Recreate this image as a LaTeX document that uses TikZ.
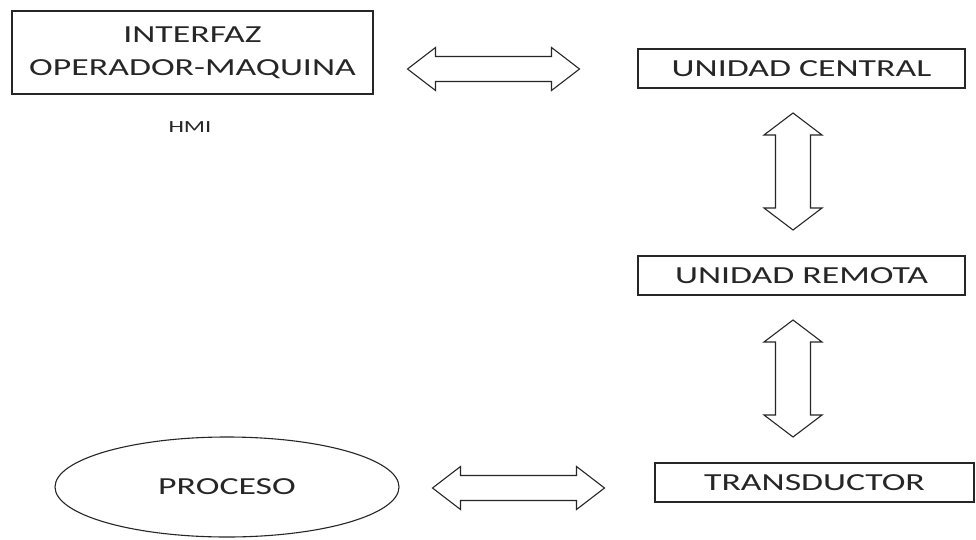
\documentclass[tikz,border=0pt]{standalone}
\usepackage{fontspec}
\usetikzlibrary{shapes.geometric}
\newfontfamily\lbl[FakeStretch=1.46]{Carlito}
\definecolor{ink}{RGB}{38,38,38}
\begin{document}
\begin{tikzpicture}[x=1pt,y=-1pt,
  every node/.style={text=ink},
  boxfont/.style={font=\lbl\fontsize{24.5}{33}\selectfont},
  unitbox/.style={boxfont,draw=ink,line width=1.1pt,inner sep=0pt,
    text height=15.8pt,text depth=0pt},
  arrowline/.style={draw=ink,line width=1.1pt,line join=miter,fill=white},
  harrow/.pic={
    \path[arrowline] (-86,0) -- (-58,-21.5) -- (-58,-12.5) -- (58,-12.5)
      -- (58,-21.5) -- (86,0) -- (58,21.5) -- (58,12.5) -- (-58,12.5)
      -- (-58,21.5) -- cycle;},
  varrow/.pic={
    \path[arrowline] (0,-58.5) -- (29,-36.5) -- (17.5,-36.5) -- (17.5,36.5)
      -- (29,36.5) -- (0,58.5) -- (-29,36.5) -- (-17.5,36.5) -- (-17.5,-36.5)
      -- (-29,-36.5) -- cycle;}
]
\useasboundingbox[fill=white] (0,0) rectangle (976,540);

% operator interface
\node[boxfont,draw=ink,line width=1.1pt,inner sep=0pt,align=center,
      minimum width=361pt,minimum height=83pt] (hmi) at (192.5,52.5)
      {INTERFAZ\\OPERADOR-MAQUINA};
\node[font=\lbl\fontsize{17}{20}\selectfont,anchor=base] (hmilabel) at (190,133) {HMI};

% central, remote and transducer units
\node[unitbox,minimum width=327pt,minimum height=39pt] (central) at (801.5,68.5) {UNIDAD CENTRAL};
\node[unitbox,minimum width=327pt,minimum height=39pt] (remota) at (801.5,275.5) {UNIDAD REMOTA};
\node[unitbox,minimum width=319pt,minimum height=39pt] (trans) at (814.5,482.5) {TRANSDUCTOR};

% process
\node[boxfont,ellipse,draw=ink,line width=1.1pt,inner sep=0pt,
      minimum width=344pt,minimum height=100pt] (proceso) at (227,487) {PROCESO};

% two-way links between the blocks
\pic (linkA) at (493.5,69) {harrow};
\pic (linkB) at (793,171.5) {varrow};
\pic (linkC) at (793,378.5) {varrow};
\pic (linkD) at (518.5,488) {harrow};
\end{tikzpicture}
\end{document}
